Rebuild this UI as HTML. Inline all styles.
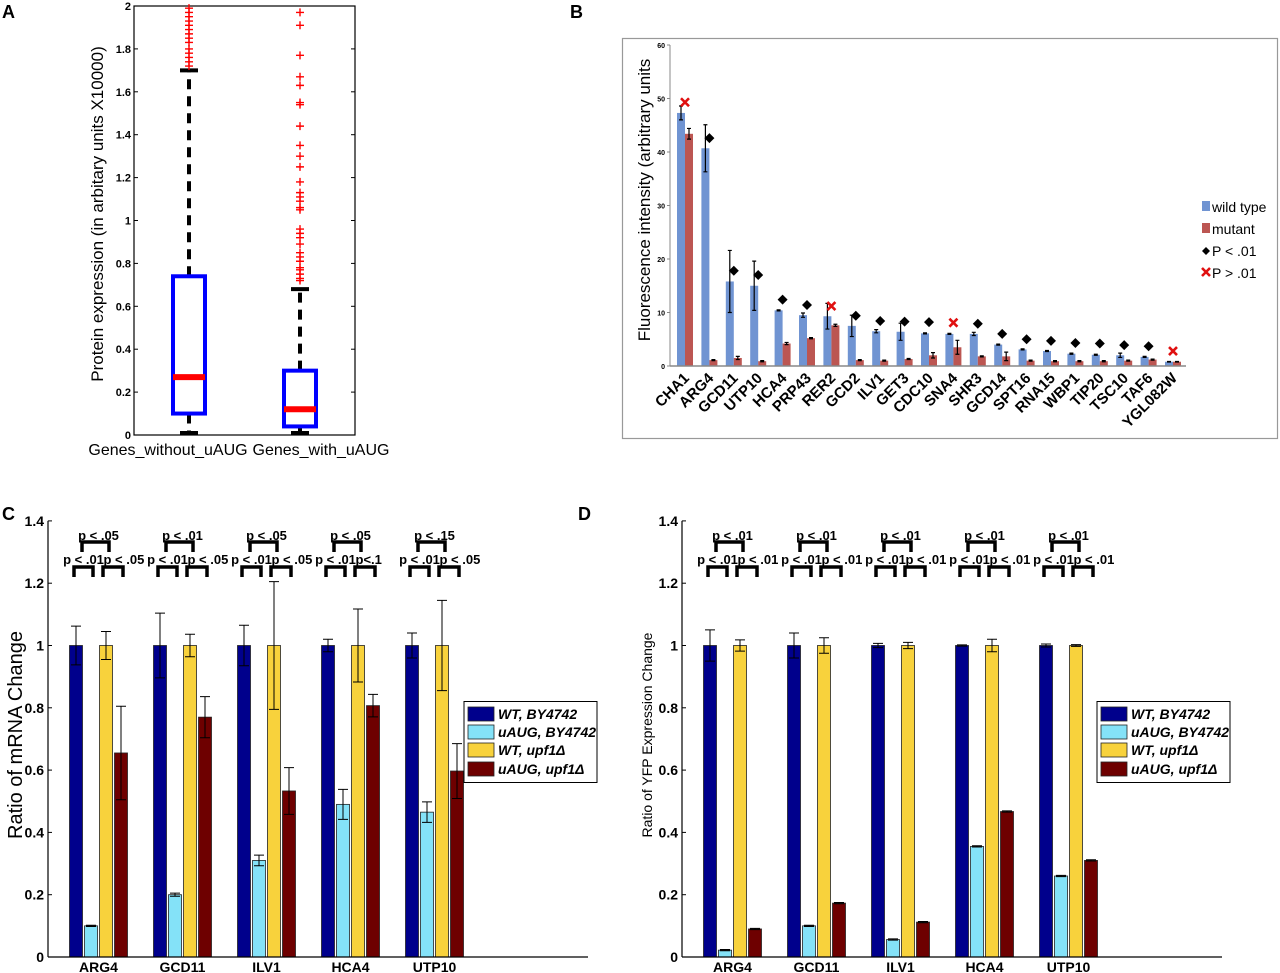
<!DOCTYPE html>
<html><head><meta charset="utf-8"><style>
html,body{margin:0;padding:0;background:#fff;}
svg{display:block;font-family:"Liberation Sans",Arial,sans-serif;}
</style></head><body>
<svg id="fig" width="1280" height="973" viewBox="0 0 1280 973" xmlns="http://www.w3.org/2000/svg">
<text x="2" y="18" font-size="18" font-weight="bold">A</text>
<text x="570" y="18" font-size="18" font-weight="bold">B</text>
<text x="2" y="520" font-size="18" font-weight="bold">C</text>
<text x="578" y="520" font-size="18" font-weight="bold">D</text>
<g id="pa"></g>
<g id="pb"></g>
<g id="pc"></g>
<g id="pd"></g>
</svg>
<script>
// ---------- Panel A data ----------
const boxCategories = ["Genes_without_uAUG", "Genes_with_uAUG"];
const boxQ1 = [0.10, 0.04];
const boxMedian = [0.27, 0.12];
const boxQ3 = [0.74, 0.30];
const boxWhiskerLow = [0.0, 0.0];
const boxWhiskerHigh = [1.70, 0.68];
const outliersA = [1.72,1.74,1.76,1.78,1.80,1.83,1.85,1.87,1.89,1.91,1.93,1.95,1.97,1.99];
const outliersB = [1.97,1.91,1.77,1.67,1.63,1.55,1.54,1.44,1.35,1.30,1.25,1.18,1.13,1.11,1.09,1.06,1.05,0.96,0.94,0.92,0.89,0.85,0.83,0.81,0.78,0.77,0.75,0.73,0.72];
const ticksA = [0,0.2,0.4,0.6,0.8,1,1.2,1.4,1.6,1.8,2];

// ---------- Panel B data ----------
const genesB = ["CHA1","ARG4","GCD11","UTP10","HCA4","PRP43","RER2","GCD2","ILV1","GET3","CDC10","SNA4","SHR3","GCD14","SPT16","RNA15","WBP1","TIP20","TSC10","TAF6","YGL082W"];
const wildB = [47.3,40.7,15.8,15.0,10.4,9.5,9.3,7.5,6.5,6.4,6.1,6.0,6.0,4.0,3.1,2.8,2.3,2.1,2.0,1.7,0.8];
const wildErrB = [1.3,4.4,5.8,4.6,0.1,0.4,2.4,2.0,0.3,1.6,0.1,0.1,0.3,0.1,0.1,0.1,0.1,0.1,0.4,0.1,0.05];
const mutB = [43.4,1.1,1.5,0.9,4.2,5.2,7.6,1.1,1.0,1.3,2.0,3.5,1.8,1.8,1.0,0.9,0.9,0.9,1.0,1.2,0.8];
const mutErrB = [1.0,0.1,0.3,0.1,0.2,0.1,0.2,0.1,0.1,0.1,0.5,1.3,0.1,0.8,0.1,0.1,0.1,0.1,0.1,0.1,0.05];
const markB = [49.3,42.6,17.8,17.0,12.4,11.4,11.2,9.4,8.4,8.3,8.2,8.1,7.9,6.0,5.0,4.7,4.3,4.2,3.9,3.7,2.8];
const sigB = [0,1,1,1,1,1,0,1,1,1,1,0,1,1,1,1,1,1,1,1,0];
const ticksB = [0,10,20,30,40,50,60];

// ---------- Panel C data ----------
const genesCD = ["ARG4","GCD11","ILV1","HCA4","UTP10"];
const seriesNames = ["WT, BY4742","uAUG, BY4742","WT, upf1Δ","uAUG, upf1Δ"];
const cWT = [1,1,1,1,1];
const cWTerr = [0.062,0.104,0.065,0.02,0.04];
const cUAUG = [0.10,0.20,0.31,0.49,0.465];
const cUAUGerr = [0.002,0.005,0.017,0.048,0.033];
const cWTupf = [1,1,1,1,1];
const cWTupfErr = [0.045,0.036,0.205,0.117,0.145];
const cUAUGupf = [0.655,0.77,0.533,0.807,0.597];
const cUAUGupfErr = [0.15,0.066,0.075,0.036,0.088];
const cTopP = ["p < .05","p < .01","p < .05","p < .05","p < .15"];
const cLeftP = ["p < .01","p < .01","p < .01","p < .01","p < .01"];
const cRightP = ["p < .05","p < .05","p < .05","p<.1","p < .05"];
const ticksCD = [0,0.2,0.4,0.6,0.8,1,1.2,1.4];

// ---------- Panel D data ----------
const dWT = [1,1,1,1,1];
const dWTerr = [0.05,0.04,0.007,0.002,0.005];
const dUAUG = [0.022,0.10,0.056,0.355,0.26];
const dUAUGerr = [0.002,0.002,0.002,0.002,0.002];
const dWTupf = [1,1,1,1,1];
const dWTupfErr = [0.018,0.025,0.01,0.02,0.003];
const dUAUGupf = [0.09,0.173,0.112,0.467,0.31];
const dUAUGupfErr = [0.002,0.002,0.002,0.002,0.002];
const dTopP = ["p < .01","p < .01","p < .01","p < .01","p < .01"];
const dLeftP = ["p < .01","p < .01","p < .01","p < .01","p < .01"];
const dRightP = ["p < .01","p < .01","p < .01","p < .01","p < .01"];

const NS = "http://www.w3.org/2000/svg";
function mk(tag, attrs, parent, txt){
  const el = document.createElementNS(NS, tag);
  for (const k in attrs) el.setAttribute(k, attrs[k]);
  if (txt !== undefined) el.textContent = txt;
  parent.appendChild(el);
  return el;
}

// ================= Panel A =================
(function(){
  const g = document.getElementById('pa');
  const x0=134, x1=355, yTop=6, yBot=435;
  const y = v => yBot - v/2*(yBot-yTop);
  const xc = [189, 300];
  const fr = mk('rect',{x:x0,y:yTop,width:x1-x0,height:yBot-yTop,fill:'none',stroke:'#000','stroke-width':1.2},g);
  
  
  ticksA.forEach(t=>{
    const tl = mk('line',{x1:x0,x2:x0+4,y1:y(t),y2:y(t),stroke:'#000'},g);
    
    
    const tr = mk('line',{x1:x1-4,x2:x1,y1:y(t),y2:y(t),stroke:'#000'},g);
    
    
    const lb = mk('text',{x:x0-3,y:y(t)+4,'font-size':11,'font-weight':'bold','text-anchor':'end'},g,String(t));
    
    
  });
  const yl = mk('text',{x:0,y:0,'font-size':17,'text-anchor':'middle',transform:'translate(103,214) rotate(-90)'},g,'Protein expression (in arbitary units X10000)');
  
  
  const labX=[168,321];
  boxCategories.forEach((c,i)=>{
    const cx = xc[i];
    const wl = mk('line',{x1:cx,x2:cx,y1:y(boxQ3[i]),y2:y(boxWhiskerHigh[i]),stroke:'#000','stroke-width':4,'stroke-dasharray':'10 7'},g);
    
    
    const wd = mk('line',{x1:cx,x2:cx,y1:y(boxQ1[i]),y2:y(boxWhiskerLow[i]),stroke:'#000','stroke-width':4,'stroke-dasharray':'10 7'},g);
    
    
    const cu = mk('line',{x1:cx-9,x2:cx+9,y1:y(boxWhiskerHigh[i]),y2:y(boxWhiskerHigh[i]),stroke:'#000','stroke-width':4},g);
    
    
    const cl = mk('line',{x1:cx-9,x2:cx+9,y1:y(boxWhiskerLow[i])-2,y2:y(boxWhiskerLow[i])-2,stroke:'#000','stroke-width':4},g);
    
    
    const bx = mk('rect',{x:cx-16,y:y(boxQ3[i]),width:32,height:y(boxQ1[i])-y(boxQ3[i]),fill:'#fff',stroke:'#0000ff','stroke-width':4},g);
    
    
    const md = mk('line',{x1:cx-16,x2:cx+16,y1:y(boxMedian[i]),y2:y(boxMedian[i]),stroke:'#ff0000','stroke-width':6},g);
    
    
    const lb = mk('text',{x:labX[i],y:455,'font-size':16,'text-anchor':'middle'},g,c);
    
    
    const outs = i===0?outliersA:outliersB;
    outs.forEach(v=>{
      const p = mk('path',{d:`M${cx-4},${y(v)}h8M${cx},${y(v)-4}v8`,stroke:'#ff0000','stroke-width':1.4},g);
      
      
    });
  });
})();

// ================= Panel B =================
(function(){
  const g = document.getElementById('pb');
  const fr = mk('rect',{x:622.5,y:38.5,width:655,height:400,fill:'none',stroke:'#999','stroke-width':1.2},g);
  
  
  const ax=670, axEnd=1186, y0=366, per=5.35;
  const y = v => y0 - v*per;
  const xc = i => 685 + i*24.4;
  const ya = mk('line',{x1:ax,x2:ax,y1:y(60),y2:y0,stroke:'#888','stroke-width':1},g);
  
  
  ticksB.forEach(t=>{
    const tk = mk('line',{x1:ax-3,x2:ax,y1:y(t),y2:y(t),stroke:'#888'},g);
    
    
    const lb = mk('text',{x:ax-5,y:y(t)+3,'font-size':7,'font-weight':'bold','text-anchor':'end'},g,String(t));
    
    
  });
  const yl = mk('text',{x:0,y:0,'font-size':17,'text-anchor':'middle',transform:'translate(650,200) rotate(-90)'},g,'Fluorescence intensity (arbitrary units');
  
  
  genesB.forEach((gn,i)=>{
    const c = xc(i);
    const b1 = mk('rect',{x:c-8,y:y(wildB[i]),width:8,height:y0-y(wildB[i]),fill:'#7094d2'},g);
    
    
    const b2 = mk('rect',{x:c,y:y(mutB[i]),width:8,height:y0-y(mutB[i]),fill:'#bc5652'},g);
    
    
    [[c-4,wildB[i],wildErrB[i]],[c+4,mutB[i],mutErrB[i]]].forEach(([ex,v,e])=>{
      const eb = mk('path',{d:`M${ex},${y(v+e)}V${y(v-e)}M${ex-2},${y(v+e)}h4M${ex-2},${y(v-e)}h4`,stroke:'#000','stroke-width':1.2,fill:'none'},g);
      
      
    });
    const my = y(markB[i]);
    let mkEl;
    if (sigB[i]) mkEl = mk('path',{d:`M${c},${my-5}l5,5l-5,5l-5,-5z`,fill:'#000'},g);
    else mkEl = mk('path',{d:`M${c-4},${my-4}l8,8M${c+4},${my-4}l-8,8`,stroke:'#e01010','stroke-width':2.6},g);
    
    
    const lb = mk('text',{x:0,y:0,'font-size':15,'font-weight':'bold','text-anchor':'end',transform:`translate(${c+5},379) rotate(-45)`},g,gn);
    
    
  });
  const xa = mk('line',{x1:ax,x2:axEnd,y1:y0,y2:y0,stroke:'#888','stroke-width':1.6},g);
  
  
  const legY=[207,229,251,273];
  const legT=['wild type','mutant','P < .01','P > .01'];
  const leg = mk('g',{},g);
  
  
  legT.forEach((t,i)=>{
    let s;
    if(i===0) s = mk('rect',{x:1202,y:legY[i]-6,width:8,height:10,fill:'#7094d2'},leg);
    else if(i===1) s = mk('rect',{x:1202,y:legY[i]-6,width:8,height:10,fill:'#bc5652'},leg);
    else if(i===2) s = mk('path',{d:`M1206,${legY[i]-4}l4,4l-4,4l-4,-4z`,fill:'#000'},leg);
    else s = mk('path',{d:`M1202,${legY[i]-5}l8,8M1210,${legY[i]-5}l-8,8`,stroke:'#e01010','stroke-width':2.6},leg);
    
    
    const tx = mk('text',{x:1212,y:legY[i]+5,'font-size':14},leg,t);
    
    
  });
})();

// ================= Panels C & D =================
function groupedPanel(gid, ax, prefix, yTitle, yTitleX, yTitleSize, vals, errs, topP, leftP, rightP, legX){
  const g = document.getElementById(gid);
  const y0=957, per=62.3/0.2, axEnd=ax+540;
  const y = v => y0 - v*per;
  const gc = i => ax + 50.5 + i*84;
  const cols = ['#00008c','#84e2f8','#f8d23c','#6e0000'];
  const ya = mk('line',{x1:ax,x2:ax,y1:y(1.4),y2:y0,stroke:'#000','stroke-width':1.2},g);
  
  
  ticksCD.forEach(t=>{
    const tk = mk('line',{x1:ax,x2:ax+4,y1:y(t),y2:y(t),stroke:'#000'},g);
    
    
    const lb = mk('text',{x:ax-4,y:y(t)+5,'font-size':14,'font-weight':'bold','text-anchor':'end'},g,String(t));
    
    
  });
  const yl = mk('text',{x:0,y:0,'font-size':yTitleSize,'text-anchor':'middle',transform:`translate(${yTitleX},735) rotate(-90)`},g,yTitle);
  
  
  const offs=[-22.5,-7.5,7.5,22.5];
  genesCD.forEach((gn,i)=>{
    const c = gc(i);
    for(let s=0;s<4;s++){
      const v = vals[s][i], e = errs[s][i], bx = c+offs[s];
      const r = mk('rect',{x:bx-6.5,y:y(v),width:13,height:y0-y(v),fill:cols[s],stroke:'#222','stroke-width':0.8},g);
      
      
      const eb = mk('path',{d:`M${bx},${y(v+e)}V${y(v-e)}M${bx-5},${y(v+e)}h10M${bx-5},${y(v-e)}h10`,stroke:'#000','stroke-width':1,fill:'none'},g);
      
      
    }
    const lb = mk('text',{x:c,y:972,'font-size':14,'font-weight':'bold','text-anchor':'middle'},g,gn);
    
    
    const br1 = mk('path',{d:`M${c-16.5},552V542H${c+10.5}V552`,stroke:'#000','stroke-width':3.5,fill:'none'},g);
    
    
    const br2 = mk('path',{d:`M${c-24.5},577V567H${c-5.5}V577`,stroke:'#000','stroke-width':3.5,fill:'none'},g);
    
    
    const br3 = mk('path',{d:`M${c+4.5},577V567H${c+24.5}V577`,stroke:'#000','stroke-width':3.5,fill:'none'},g);
    
    
    const t1 = mk('text',{x:c,y:540,'font-size':13,'font-weight':'bold','text-anchor':'middle'},g,topP[i]);
    
    
    const t2 = mk('text',{x:c-15,y:564,'font-size':13,'font-weight':'bold','text-anchor':'middle'},g,leftP[i]);
    
    
    const t3 = mk('text',{x:c+5,y:564,'font-size':13,'font-weight':'bold','text-anchor':'start'},g,rightP[i]);
    
    
  });
  const xa = mk('line',{x1:ax,x2:axEnd,y1:y0,y2:y0,stroke:'#000','stroke-width':1.2},g);
  
  
  const leg = mk('g',{},g);
  
  
  const lbx = mk('rect',{x:legX,y:701.5,width:133,height:81,fill:'#fff',stroke:'#000','stroke-width':1},leg);
  
  
  const rows=[714,732,750,769];
  seriesNames.forEach((sn,s)=>{
    const sw = mk('rect',{x:legX+4,y:rows[s]-7,width:26,height:14,fill:cols[s],stroke:'#222','stroke-width':0.8},leg);
    
    
    const tx = mk('text',{x:legX+34,y:rows[s]+5,'font-size':14,'font-weight':'bold','font-style':'italic'},leg,sn);
    
    
  });
}
groupedPanel('pc',48,'panel-c','Ratio of mRNA Change',22,20,
  [cWT,cUAUG,cWTupf,cUAUGupf],[cWTerr,cUAUGerr,cWTupfErr,cUAUGupfErr],cTopP,cLeftP,cRightP,464);
groupedPanel('pd',682,'panel-d','Ratio of YFP Expression Change',652,14,
  [dWT,dUAUG,dWTupf,dUAUGupf],[dWTerr,dUAUGerr,dWTupfErr,dUAUGupfErr],dTopP,dLeftP,dRightP,1097);
</script>
</body></html>
